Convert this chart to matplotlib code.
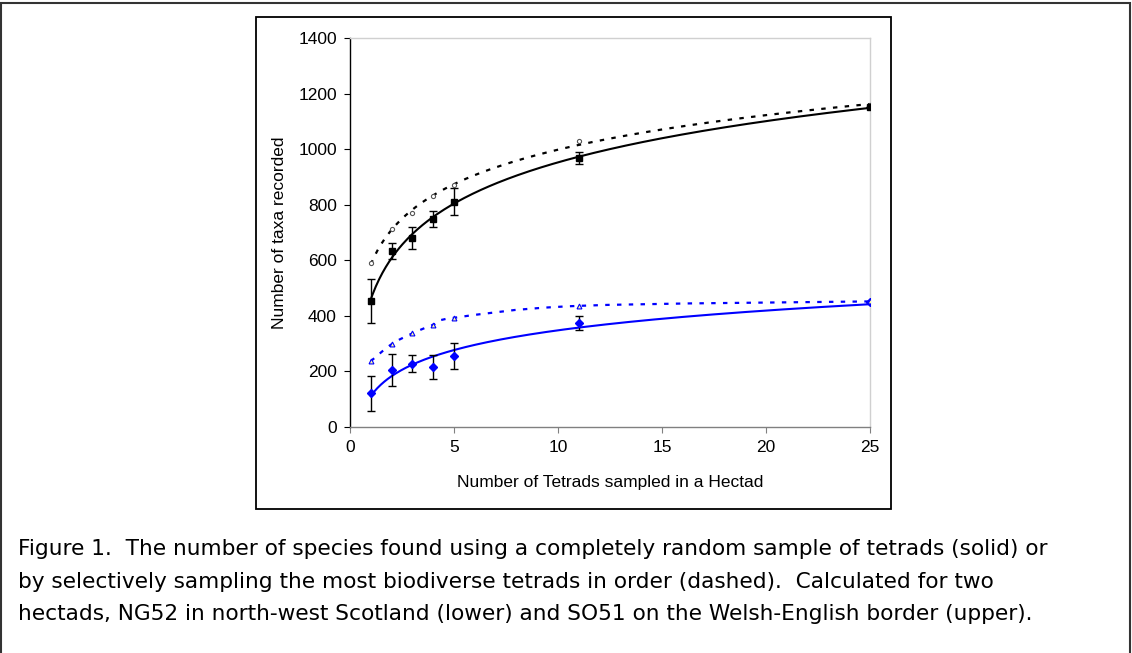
"""Species accumulation: random vs selective tetrad sampling for two hectads."""
import matplotlib

matplotlib.use("Agg")
import matplotlib.pyplot as plt
import numpy as np
from matplotlib.patches import PathPatch, Rectangle
from matplotlib.path import Path

# tetrads sampled
tetrads = [1, 2, 3, 4, 5, 11, 25]

# SO51 (upper) - random sample mean +/- error, and selective sampling
so51_random = [453, 633, 679, 748, 811, 967, 1153]
so51_err = [79, 28, 40, 29, 48, 21, 0]
so51_select = [591, 711, 771, 832, 871, 1029, 1158]

# NG52 (lower)
ng52_random = [121, 204, 228, 217, 255, 374, 451]
ng52_err = [63, 57, 30, 43, 47, 24, 0]
ng52_select = [237, 298, 337, 368, 393, 436, 452]

x_ticks = [0, 5, 10, 15, 20, 25]
y_ticks = [0, 200, 400, 600, 800, 1000, 1200, 1400]

CAPTION = [
    "Figure 1.  The number of species found using a completely random sample of tetrads (solid) or",
    "by selectively sampling the most biodiverse tetrads in order (dashed).  Calculated for two",
    "hectads, NG52 in north-west Scotland (lower) and SO51 on the Welsh-English border (upper).",
]

BLUE = "#0000ff"
DASH = (0, (2.0, 3.3))


def log_trend(ax, x, y, **kw):
    # Excel-style logarithmic trendline, fitted to the data
    a, b = np.polyfit(np.log(x), y, 1)
    xs = np.linspace(min(x), max(x), 300)
    ax.plot(xs, a * np.log(xs) + b, **kw)


def smooth_line(ax, x, y, **kw):
    # Excel-style smoothed line: Catmull-Rom as cubic Bezier segments
    p = np.column_stack([x, y]).astype(float)
    pts = [p[0]]
    codes = [Path.MOVETO]
    for i in range(len(p) - 1):
        p0 = p[i - 1] if i > 0 else p[i]
        p3 = p[i + 2] if i + 2 < len(p) else p[i + 1]
        c1 = p[i] + (p[i + 1] - p0) / 6
        c2 = p[i + 1] - (p3 - p[i]) / 6
        pts += [c1, c2, p[i + 1]]
        codes += [Path.CURVE4] * 3
    ax.add_patch(PathPatch(Path(pts, codes), fill=False, **kw))


def main():
    plt.rcParams["font.family"] = ["Liberation Sans", "DejaVu Sans"]

    fig = plt.figure(figsize=(11.32, 6.53), dpi=100)
    W, H = 1132, 653
    ax = fig.add_axes([350 / W, 1 - 427 / H, 520 / W, 389 / H])

    # upper hectad
    log_trend(ax, tetrads, so51_random, color="black", lw=1.5, zorder=3)
    log_trend(ax, tetrads, so51_select, color="black", lw=1.6, linestyle=DASH, zorder=3)
    ax.errorbar(tetrads, so51_random, yerr=so51_err, fmt="s", color="black",
                ms=5, ecolor="black", elinewidth=1, capsize=3, capthick=1, zorder=4)
    ax.plot(tetrads, so51_select, "o", ms=3, mfc="white", mec="#555555", mew=0.8, zorder=4)

    # lower hectad
    log_trend(ax, tetrads, ng52_random, color=BLUE, lw=1.5, zorder=3)
    smooth_line(ax, tetrads, ng52_select, edgecolor=BLUE, lw=1.6, linestyle=DASH, zorder=3)
    ax.errorbar(tetrads, ng52_random, yerr=ng52_err, fmt="none",
                ecolor="black", elinewidth=1, capsize=3, capthick=1, zorder=4)
    ax.plot(tetrads, ng52_random, "D", ms=4, color=BLUE, zorder=5)
    ax.plot(tetrads, ng52_select, "^", ms=3.5, mfc="#ffff99", mec=BLUE, mew=0.8, zorder=5)

    ax.set_xlim(0, 25)
    ax.set_ylim(0, 1400)
    ax.set_xticks(x_ticks)
    ax.set_yticks(y_ticks)
    ax.tick_params(direction="out", length=4.5, width=0.8, labelsize=12.5, pad=5, colors="black")
    ax.tick_params(axis="x", color="#808080")

    ax.spines["left"].set_color("black")
    ax.spines["bottom"].set_color("#808080")
    ax.spines["top"].set_color("#d0d0d0")
    ax.spines["right"].set_color("#d0d0d0")
    for s in ax.spines.values():
        s.set_linewidth(1.0)

    ax.set_xlabel("Number of Tetrads sampled in a Hectad", fontsize=12.5, labelpad=14)
    ax.set_ylabel("Number of taxa recorded", fontsize=12.5, labelpad=8)

    # chart box and outer frame
    fig.patches.append(Rectangle((256 / W, 1 - 509 / H), 635 / W, 492 / H,
                                 transform=fig.transFigure, fill=False,
                                 edgecolor="black", lw=1.3))
    fig.patches.append(Rectangle((1 / W, -0.05), 1129 / W, 1.05 - 3 / H,
                                 transform=fig.transFigure, fill=False,
                                 edgecolor="#333333", lw=1.5))

    for i, line in enumerate(CAPTION):
        fig.text(18 / W, 1 - (549 + 32.5 * i) / H, line, family="DejaVu Sans",
                 fontsize=15.6, va="center", ha="left")

    fig.savefig("out.png", dpi=100)
    plt.close(fig)


if __name__ == "__main__":
    main()
